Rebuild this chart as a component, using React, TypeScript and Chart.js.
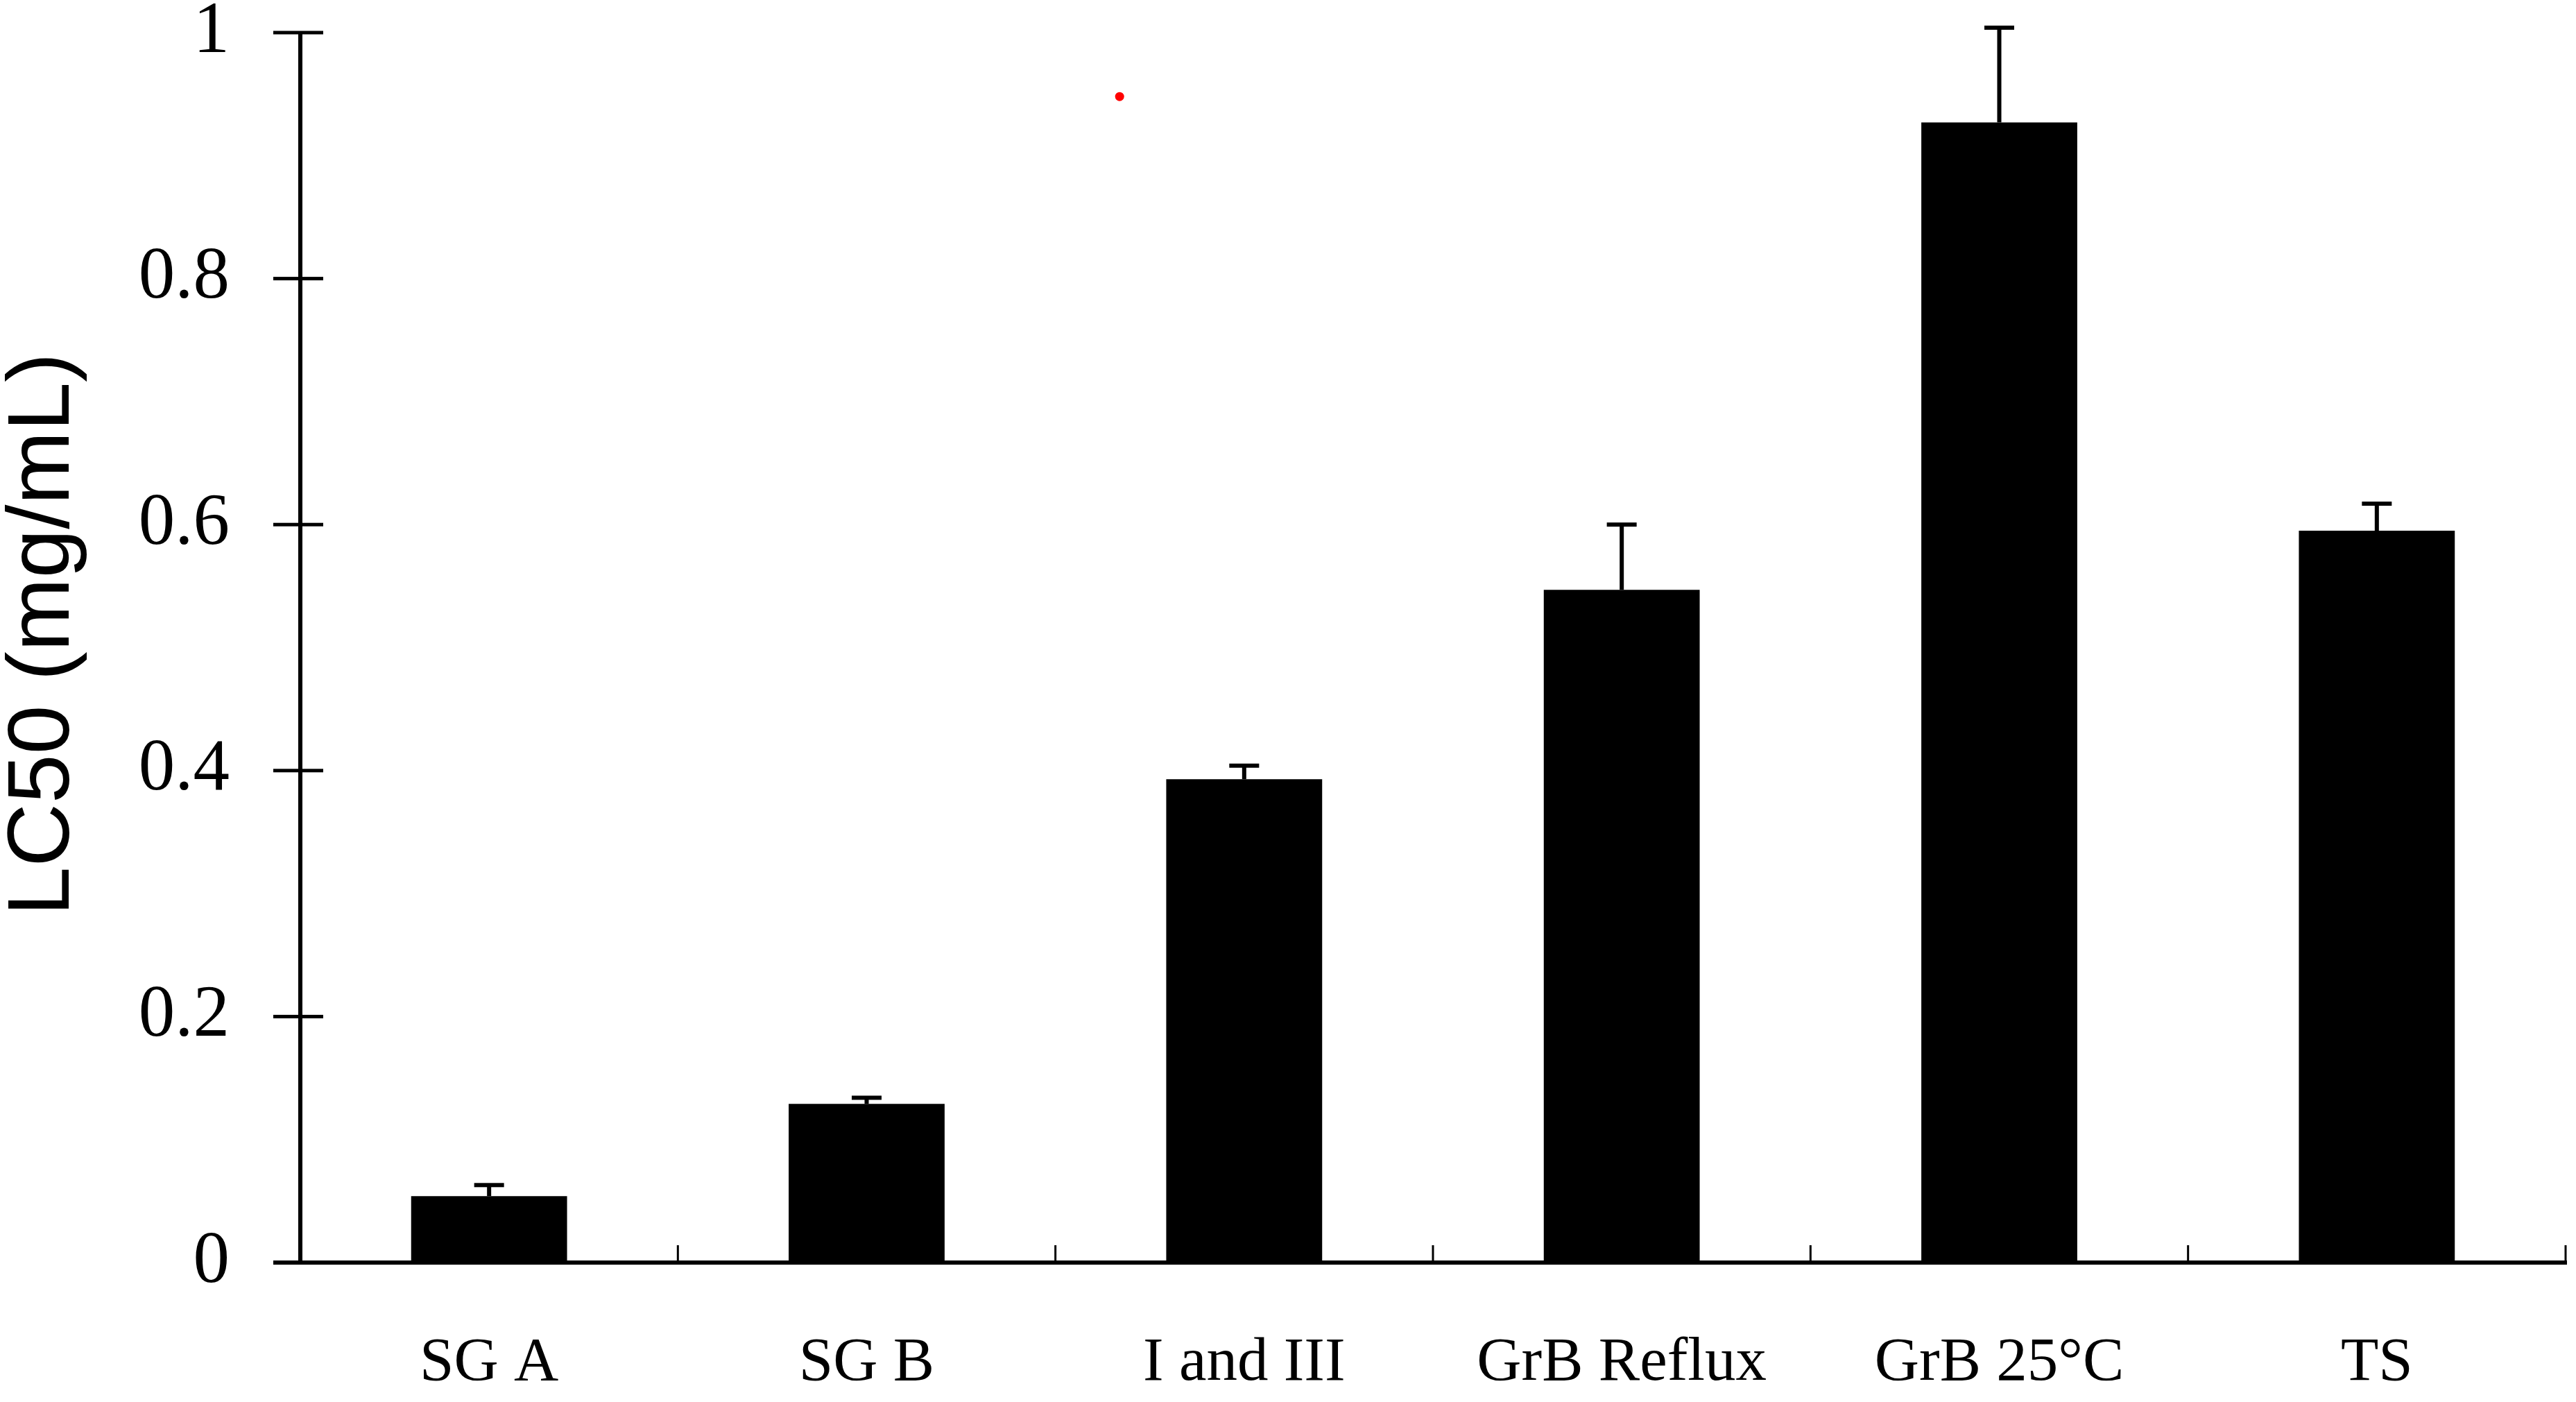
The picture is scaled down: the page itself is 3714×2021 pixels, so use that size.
import React, { useEffect, useRef } from 'react';
import { Chart, registerables } from 'chart.js';

Chart.register(...registerables);

const categories = ['SG A', 'SG B', 'I and III', 'GrB Reflux', 'GrB 25°C', 'TS'];
const lc50Values = [0.054, 0.129, 0.393, 0.547, 0.927, 0.595];
const lc50Errors = [0.009, 0.005, 0.011, 0.053, 0.077, 0.022];
const yTickValues = [0, 0.2, 0.4, 0.6, 0.8, 1];
const yTitle = 'LC50 (mg/mL)';
const markerX = [1.67];
const markerY = [0.948];

const errorBarPlugin = {
  id: 'errorBars',
  afterDatasetsDraw(chart: any) {
    const meta = chart.getDatasetMeta(0);
    const y = chart.scales.y;
    const ctx = chart.ctx;
    ctx.save();
    ctx.fillStyle = '#000';
    meta.data.forEach((bar: any, i: number) => {
      const top = y.getPixelForValue(lc50Values[i] + lc50Errors[i]);
      const cx = bar.x;
      ctx.fillRect(cx - 3, top, 6, bar.y - top);
      ctx.fillRect(cx - 21.5, top - 3, 43, 6);
    });
    ctx.restore();
  },
};

const axesPlugin = {
  id: 'axesDraw',
  afterDatasetsDraw(chart: any) {
    const { ctx, chartArea } = chart;
    const x = chart.scales.x;
    const y = chart.scales.y;
    const left = chartArea.left;
    const y0 = y.getPixelForValue(0);
    const y1 = y.getPixelForValue(1);
    ctx.save();
    ctx.fillStyle = '#000';
    ctx.fillRect(left - 3, y1, 6, y0 - y1);
    yTickValues.forEach((v) => {
      const py = y.getPixelForValue(v);
      ctx.fillRect(left - 39, py - 2.5, 72, 5);
    });
    const rightEnd = x.getPixelForValue(categories.length - 0.5);
    ctx.fillRect(left - 39, y0 - 3, rightEnd - left + 39 + 2, 6);
    for (let i = 0; i < categories.length; i++) {
      const px = x.getPixelForValue(i + 0.5);
      ctx.fillRect(px - 1.5, y0 - 25, 3, 25);
    }
    ctx.restore();
  },
};

const titlePlugin = {
  id: 'yTitle',
  afterDraw(chart: any) {
    const { ctx, chartArea } = chart;
    const cy = (chartArea.top + chartArea.bottom) / 2 - 19;
    ctx.save();
    ctx.translate(63.5, cy);
    ctx.rotate(-Math.PI / 2);
    ctx.font = '127px "Liberation Sans"';
    ctx.fillStyle = '#000';
    ctx.textAlign = 'center';
    ctx.textBaseline = 'middle';
    ctx.fillText(yTitle, 0, 0);
    ctx.restore();
  },
};

export default function App() {
  const canvasRef = useRef<HTMLCanvasElement | null>(null);

  useEffect(() => {
    if (!canvasRef.current) return;
    const chart = new Chart(canvasRef.current, {
      type: 'bar',
      data: {
        labels: categories,
        datasets: [
          {
            type: 'bar',
            label: 'LC50',
            data: lc50Values,
            backgroundColor: '#000',
            borderWidth: 0,
            barPercentage: 0.413,
            categoryPercentage: 1,
            grouped: false,
            xAxisID: 'x',
            yAxisID: 'y',
          } as any,
          {
            type: 'scatter',
            label: 'marker',
            data: markerX.map((mx, i) => ({ x: mx, y: markerY[i] })),
            backgroundColor: '#ff0000',
            borderWidth: 0,
            pointRadius: 6.5,
            xAxisID: 'x2',
            yAxisID: 'y',
          } as any,
        ],
      },
      options: {
        responsive: false,
        animation: false,
        devicePixelRatio: 1,
        layout: { padding: { top: 47, right: 15, left: 0, bottom: 0 } },
        plugins: {
          legend: { display: false },
          tooltip: { enabled: false },
        },
        scales: {
          x: {
            type: 'category',
            offset: true,
            grid: { display: false, drawTicks: false },
            border: { display: false },
            ticks: {
              font: { family: 'Liberation Serif', size: 89 },
              color: '#000',
              padding: 92,
              maxRotation: 0,
              autoSkip: false,
            },
            afterFit: (s: any) => {
              s.height = 201;
              s.paddingLeft = 0;
              s.paddingRight = 0;
            },
          },
          x2: {
            type: 'linear',
            display: false,
            offset: false,
            grid: { offset: false },
            min: -0.5,
            max: categories.length - 0.5,
          },
          y: {
            min: 0,
            max: 1,
            grid: { display: false, drawTicks: false },
            border: { display: false },
            ticks: {
              stepSize: 0.2,
              font: { family: 'Liberation Serif', size: 105 },
              color: '#000',
              padding: 102,
              callback: (v: any) => String(Number(Number(v).toFixed(1))),
            },
            afterFit: (s: any) => {
              s.width = 433;
              s.paddingTop = 0;
              s.paddingBottom = 0;
            },
          },
        },
      } as any,
      plugins: [errorBarPlugin, axesPlugin, titlePlugin],
    });
    return () => chart.destroy();
  }, []);

  return (
    <canvas
      ref={canvasRef}
      width={3714}
      height={2021}
      style={{ position: 'absolute', left: 0, top: 0, width: 3714, height: 2021, background: '#fff' }}
    />
  );
}
